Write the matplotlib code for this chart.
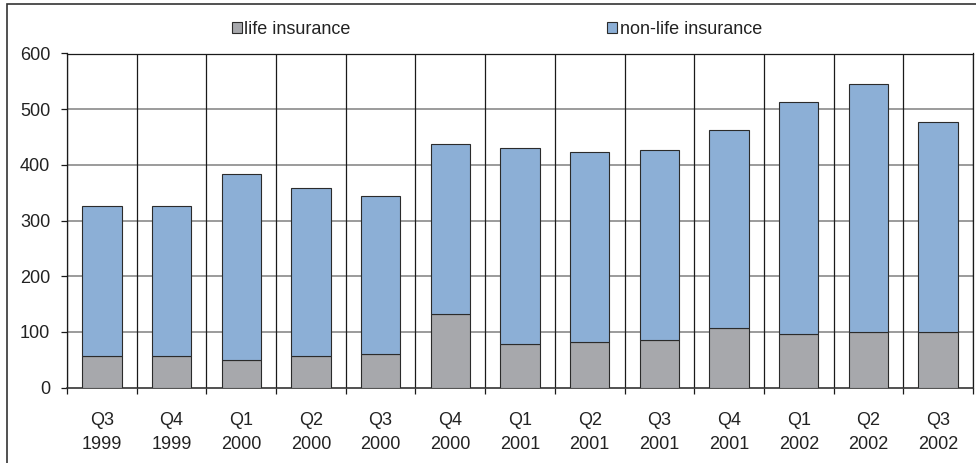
import matplotlib
matplotlib.use("Agg")
import matplotlib.pyplot as plt
from matplotlib.patches import Rectangle
import numpy as np

plt.rcParams['font.family'] = ['Liberation Sans', 'DejaVu Sans']

quarters = ["Q3\n1999", "Q4\n1999", "Q1\n2000", "Q2\n2000", "Q3\n2000", "Q4\n2000",
            "Q1\n2001", "Q2\n2001", "Q3\n2001", "Q4\n2001", "Q1\n2002", "Q2\n2002", "Q3\n2002"]
life = [57, 57, 50, 57, 60, 132, 79, 82, 86, 107, 96, 100, 100]
total = [326, 326, 384, 359, 344, 438, 430, 423, 427, 463, 513, 545, 477]
non_life = [t - l for t, l in zip(total, life)]

gray = "#A7A8AC"
blue = "#8CAFD6"
edge = "#2B2B2B"
fs = 13

fig = plt.figure(figsize=(9.76, 4.63), dpi=100)
ax = fig.add_axes([67 / 976, 1 - 387.7 / 463, 906 / 976, (387.7 - 53.5) / 463])

x = np.arange(len(quarters))
w = 0.565
b1 = ax.bar(x, life, width=w, color=gray, edgecolor=edge, linewidth=0.8, zorder=3,
            label="life insurance")
b2 = ax.bar(x, non_life, bottom=life, width=w, color=blue, edgecolor=edge, linewidth=0.8,
            zorder=3, label="non-life insurance")

ax.set_xlim(-0.5, len(quarters) - 0.5)
ax.set_ylim(0, 600)
ax.set_yticks(np.arange(0, 601, 100))

# horizontal value grid
for yv in range(100, 600, 100):
    ax.axhline(yv, color="#8A8A8A", linewidth=1.2, zorder=1)
# category separators
for xv in np.arange(-0.5, len(quarters), 1.0):
    ax.axvline(xv, color="#1A1A1A", linewidth=0.9, zorder=2)

ax.set_xticks(x)
ax.set_xticklabels(quarters, fontsize=fs, color="#222222", linespacing=1.5)
ax.set_xticks(np.arange(-0.5, len(quarters), 1.0), minor=True)
ax.tick_params(axis="x", which="major", length=0, pad=17.5)
ax.tick_params(axis="x", which="minor", length=4, width=0.9, color="#1A1A1A", direction="out")
ax.tick_params(axis="y", length=4, width=0.9, color="#1A1A1A", pad=8, labelsize=fs,
               labelcolor="#222222")

for s in ["left", "right", "top"]:
    ax.spines[s].set_color("#1A1A1A")
    ax.spines[s].set_linewidth(0.9)
ax.spines["bottom"].set_color("#333333")
ax.spines["bottom"].set_linewidth(1.2)

leg = fig.legend(handles=[b1, b2], loc="center", bbox_to_anchor=(497 / 976, 1 - 29 / 463),
                 ncol=2, frameon=False, fontsize=fs, handlelength=0.55, handleheight=0.55,
                 handletextpad=0.15, columnspacing=14.2, labelcolor="#222222")

# outer frame
fig.patches.append(Rectangle((7 / 976, -0.5), 1.5, 0.5 + 1 - 4 / 463, transform=fig.transFigure,
                             fill=False, edgecolor="#333333", linewidth=1.2))

fig.savefig("out.png", dpi=100)
